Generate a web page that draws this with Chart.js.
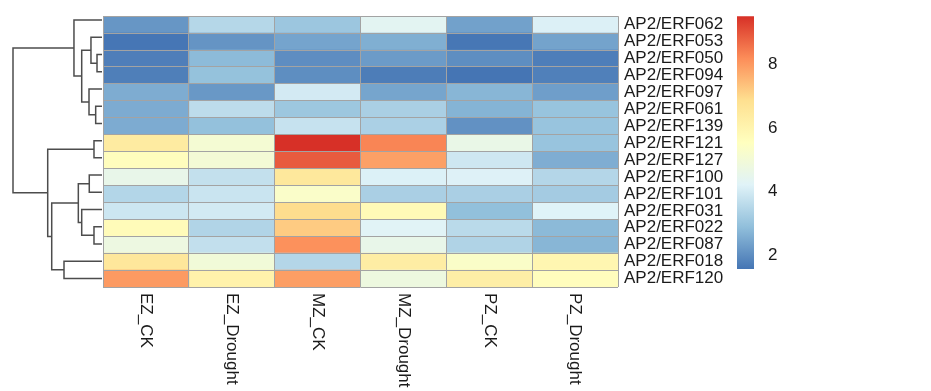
<!DOCTYPE html>
<html>
<head>
<meta charset="utf-8">
<script src="https://cdn.jsdelivr.net/npm/chart.js@4.4.1/dist/chart.umd.min.js"></script>
<style>
  html, body { margin: 0; padding: 0; background: #ffffff; width: 931px; height: 391px; overflow: hidden; }
  canvas { position: absolute; left: 0; top: 0; }
</style>
</head>
<body>
<canvas id="dendro" width="931" height="391"></canvas>
<canvas id="heat" width="931" height="391"></canvas>
<canvas id="legend" width="931" height="391"></canvas>
<script>
// ---- data -------------------------------------------------------------
const conditions = ['EZ_CK', 'EZ_Drought', 'MZ_CK', 'MZ_Drought', 'PZ_CK', 'PZ_Drought'];

const genes = [
  'AP2/ERF062', 'AP2/ERF053', 'AP2/ERF050', 'AP2/ERF094',
  'AP2/ERF097', 'AP2/ERF061', 'AP2/ERF139', 'AP2/ERF121',
  'AP2/ERF127', 'AP2/ERF100', 'AP2/ERF101', 'AP2/ERF031',
  'AP2/ERF022', 'AP2/ERF087', 'AP2/ERF018', 'AP2/ERF120'
];

// expression per condition, in gene order
const ezCK       = [2.15, 1.58, 1.73, 1.74, 2.55, 2.53, 2.53, 6.39, 5.60, 4.55, 3.46, 3.87, 5.70, 4.75, 6.55, 7.98];
const ezDrought  = [3.49, 2.12, 2.82, 2.95, 2.18, 3.62, 2.94, 5.07, 5.03, 3.72, 3.83, 3.97, 3.43, 3.70, 4.95, 6.10];
const mzCK       = [3.07, 2.40, 1.99, 2.00, 3.99, 3.08, 3.78, 9.51, 8.90, 6.52, 5.30, 6.90, 7.19, 8.12, 3.47, 7.92];
const mzDrought  = [4.35, 2.59, 2.24, 1.70, 2.42, 3.30, 3.32, 8.30, 7.88, 4.15, 3.30, 5.75, 4.25, 4.55, 6.30, 4.78];
const pzCK       = [2.35, 1.60, 2.00, 1.56, 2.72, 2.68, 2.07, 4.60, 3.90, 4.17, 3.30, 2.90, 3.58, 3.40, 5.32, 6.25];
const pzDrought  = [4.14, 2.38, 1.72, 1.76, 2.30, 3.00, 3.00, 3.00, 2.57, 3.48, 3.20, 4.20, 2.80, 2.72, 5.92, 5.60];

const columns = [ezCK, ezDrought, mzCK, mzDrought, pzCK, pzDrought];

// row clustering, hclust style: negative = gene (1-based), positive = earlier merge
const mergeLeft   = [-3, -6, -8, -13, -2, -10, -5, 5, -12, 6, -1, -15, 10, 3, 11];
const mergeRight  = [-4, -7, -9, -14,  1, -11,  2, 7,   4, 9,  8, -16, 12, 13, 14];
const mergeHeight = [0.56, 0.71, 0.90, 0.90, 1.24, 1.43, 1.46, 2.28, 2.28, 2.66, 3.15, 4.27, 5.65, 6.10, 10.0];

// colour key
const legendTicks = [2, 4, 6, 8];
const palette = ['#4575B4', '#91BFDB', '#E0F3F8', '#FFFFBF', '#FEE090', '#FC8D59', '#D73027'];

// ---- helpers ----------------------------------------------------------
const allValues = columns.flat();
const scaleMin = Math.min(...allValues);
const scaleMax = Math.max(...allValues);

const paletteRgb = palette.map(h => [1, 3, 5].map(i => parseInt(h.slice(i, i + 2), 16)));
function colorFor(v) {
  const t = Math.max(0, Math.min(1, (v - scaleMin) / (scaleMax - scaleMin))) * (paletteRgb.length - 1);
  const i = Math.min(Math.floor(t), paletteRgb.length - 2);
  const f = t - i;
  const a = paletteRgb[i], b = paletteRgb[i + 1];
  const c = a.map((x, k) => Math.round(x + (b[k] - x) * f));
  return `rgb(${c[0]},${c[1]},${c[2]})`;
}

Chart.defaults.font.family = '"Liberation Sans", Arial, sans-serif';
Chart.defaults.color = '#1a1a1a';

const textFont = { family: '"Liberation Sans", Arial, sans-serif', size: 17 };
const gridColor = '#a3a3a3';

// ---- dendrogram -------------------------------------------------------
const nodeY = [], nodeH = [];
function childPos(id) {
  if (id < 0) return { y: -id - 0.5, h: 0 };
  return { y: nodeY[id - 1], h: nodeH[id - 1] };
}
const treeSets = mergeHeight.map((h, m) => {
  const a = childPos(mergeLeft[m]);
  const b = childPos(mergeRight[m]);
  nodeY[m] = (a.y + b.y) / 2;
  nodeH[m] = h;
  return {
    data: [{ x: a.h, y: a.y }, { x: h, y: a.y }, { x: h, y: b.y }, { x: b.h, y: b.y }],
    showLine: true,
    borderColor: '#4d4d4d',
    borderWidth: 1.5,
    pointRadius: 0,
    tension: 0,
    clip: false
  };
});

new Chart(document.getElementById('dendro'), {
  type: 'scatter',
  data: { datasets: treeSets },
  options: {
    responsive: false,
    animation: false,
    devicePixelRatio: 1,
    layout: { padding: { left: 13, right: 829, top: 11.5, bottom: 104 } },
    plugins: { legend: { display: false }, tooltip: { enabled: false } },
    scales: {
      x: { type: 'linear', min: 0, max: 10, reverse: true, display: false },
      y: { type: 'linear', min: 0, max: genes.length, reverse: true, display: false }
    }
  }
});

// ---- heatmap ----------------------------------------------------------
const columnLabels = {
  id: 'columnLabels',
  afterDraw(chart) {
    const { ctx, chartArea, scales } = chart;
    ctx.save();
    ctx.font = '17px "Liberation Sans", Arial, sans-serif';
    ctx.fillStyle = '#1a1a1a';
    ctx.textAlign = 'left';
    ctx.textBaseline = 'middle';
    conditions.forEach((name, i) => {
      ctx.save();
      ctx.translate(scales.x.getPixelForValue(i + 0.5), chartArea.bottom + 6);
      ctx.rotate(Math.PI / 2);
      ctx.fillText(name, 0, 0);
      ctx.restore();
    });
    ctx.restore();
  }
};

new Chart(document.getElementById('heat'), {
  type: 'bar',
  data: {
    labels: genes,
    datasets: conditions.map((name, ci) => ({
      label: name,
      data: genes.map(() => [ci, ci + 1]),
      backgroundColor: columns[ci].map(colorFor),
      borderWidth: 0,
      barPercentage: 1,
      categoryPercentage: 1,
      grouped: false
    }))
  },
  options: {
    indexAxis: 'y',
    responsive: false,
    animation: false,
    devicePixelRatio: 1,
    layout: { padding: { left: 103, right: 193, top: 11.5, bottom: 104 } },
    plugins: { legend: { display: false }, tooltip: { enabled: false } },
    scales: {
      x: {
        type: 'linear', min: 0, max: conditions.length,
        ticks: { display: false, stepSize: 1 },
        grid: { color: gridColor, lineWidth: 1, drawTicks: false, z: 1 },
        border: { display: false },
        afterFit: s => { s.height = 0; }
      },
      y: {
        type: 'category', position: 'right',
        grid: { offset: true, color: gridColor, lineWidth: 1, drawTicks: false, z: 1 },
        border: { display: false },
        ticks: { font: textFont, color: '#1a1a1a', padding: 6, autoSkip: false },
        afterFit: s => { s.width = 120; }
      }
    }
  },
  plugins: [columnLabels]
});

// ---- colour key -------------------------------------------------------
new Chart(document.getElementById('legend'), {
  type: 'bar',
  data: {
    labels: [''],
    datasets: [{
      data: [[scaleMin, scaleMax]],
      barPercentage: 1,
      categoryPercentage: 1,
      borderWidth: 0,
      backgroundColor: (c) => {
        const area = c.chart.chartArea;
        if (!area) return palette[0];
        const g = c.chart.ctx.createLinearGradient(0, area.bottom, 0, area.top);
        palette.forEach((col, i) => g.addColorStop(i / (palette.length - 1), col));
        return g;
      }
    }]
  },
  options: {
    responsive: false,
    animation: false,
    devicePixelRatio: 1,
    layout: { padding: { left: 737, right: 137, top: 12, bottom: 122 } },
    plugins: { legend: { display: false }, tooltip: { enabled: false } },
    scales: {
      x: { display: false },
      y: {
        type: 'linear', position: 'right', min: scaleMin, max: scaleMax,
        grid: { display: false },
        border: { display: false },
        ticks: { font: textFont, color: '#1a1a1a', padding: 6 },
        afterBuildTicks: s => { s.ticks = legendTicks.map(v => ({ value: v })); },
        afterFit: s => { s.width = 40; }
      }
    }
  }
});
</script>
</body>
</html>
